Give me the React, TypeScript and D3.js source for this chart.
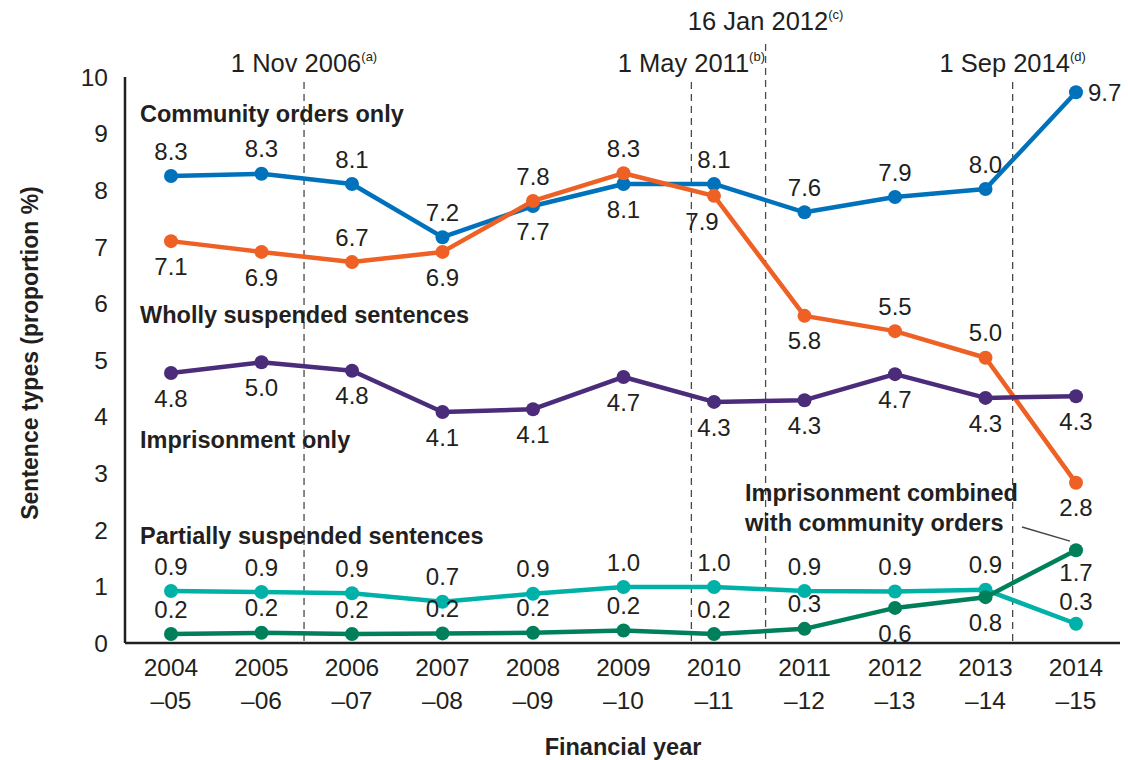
import React from 'react';
import * as d3 from 'd3';

// categories
const yearStart = ['2004', '2005', '2006', '2007', '2008', '2009', '2010', '2011', '2012', '2013', '2014'];
const yearEnd = ['–05', '–06', '–07', '–08', '–09', '–10', '–11', '–12', '–13', '–14', '–15'];

// series values (as plotted) and printed labels
const communityOnly = [8.25, 8.29, 8.11, 7.17, 7.72, 8.11, 8.11, 7.61, 7.88, 8.02, 9.73];
const communityText = ['8.3', '8.3', '8.1', '7.2', '7.7', '8.1', '8.1', '7.6', '7.9', '8.0', '9.7'];

const whollySuspended = [7.1, 6.91, 6.73, 6.91, 7.81, 8.3, 7.9, 5.78, 5.51, 5.04, 2.83];
const whollyText = ['7.1', '6.9', '6.7', '6.9', '7.8', '8.3', '7.9', '5.8', '5.5', '5.0', '2.8'];

const imprisonmentOnly = [4.77, 4.96, 4.81, 4.08, 4.13, 4.7, 4.26, 4.29, 4.75, 4.33, 4.36];
const imprisonmentText = ['4.8', '5.0', '4.8', '4.1', '4.1', '4.7', '4.3', '4.3', '4.7', '4.3', '4.3'];

const partiallySuspended = [0.92, 0.9, 0.88, 0.73, 0.87, 0.99, 0.99, 0.92, 0.91, 0.94, 0.34];
const partiallyText = ['0.9', '0.9', '0.9', '0.7', '0.9', '1.0', '1.0', '0.9', '0.9', '0.9', '0.3'];

const combined = [0.16, 0.18, 0.16, 0.17, 0.18, 0.22, 0.16, 0.25, 0.62, 0.81, 1.64];
const combinedText = ['0.2', '0.2', '0.2', '0.2', '0.2', '0.2', '0.2', '0.3', '0.6', '0.8', '1.7'];

const yTicks = [0, 1, 2, 3, 4, 5, 6, 7, 8, 9, 10];

// reform dates, placed on the category index axis
const reformDates = ['1 Nov 2006', '1 May 2011', '16 Jan 2012', '1 Sep 2014'];
const reformNotes = ['(a)', '(b)', '(c)', '(d)'];
const reformIndex = [1.47, 5.75, 6.57, 9.3];

// label placement: a = above, b = below, r = right
const series = [
  { values: communityOnly, text: communityText, color: '#0072bc',
    place: ['a', 'a', 'a', 'a', 'b', 'b', 'a', 'a', 'a', 'a', 'r'], shift: [0, 0, 0, 0, 0, 0, 0, 0, 0, 0, 0] },
  { values: whollySuspended, text: whollyText, color: '#ef6024',
    place: ['b', 'b', 'a', 'b', 'a', 'a', 'b', 'b', 'a', 'a', 'b'], shift: [0, 0, 0, 0, 0, 0, -12, 0, 0, 0, 0] },
  { values: imprisonmentOnly, text: imprisonmentText, color: '#4b2c7b',
    place: ['b', 'b', 'b', 'b', 'b', 'b', 'b', 'b', 'b', 'b', 'b'], shift: [0, 0, 0, 0, 0, 0, 0, 0, 0, 0, 0] },
  { values: partiallySuspended, text: partiallyText, color: '#00b1a8',
    place: ['a', 'a', 'a', 'a', 'a', 'a', 'a', 'a', 'a', 'a', 'a'], shift: [0, 0, 0, 0, 0, 0, 0, 0, 0, 0, 0] },
  { values: combined, text: combinedText, color: '#00805a',
    place: ['a', 'a', 'a', 'a', 'a', 'a', 'a', 'a', 'b', 'b', 'b'], shift: [0, 0, 0, 0, 0, 0, 0, 0, 0, 0, 0] },
];

const seriesNames = [
  { lines: ['Community orders only'], value: 9.35 },
  { lines: ['Wholly suspended sentences'], value: 5.8 },
  { lines: ['Imprisonment only'], value: 3.6 },
  { lines: ['Partially suspended sentences'], value: 1.9 },
];

const W = 1128;
const H = 760;
const ink = '#231f20';
const font = '"Liberation Sans", Arial, sans-serif';

export default function App() {
  const idx = d3.scaleLinear().domain([0, 10]).range([171, 1076]);
  const y = d3.scaleLinear().domain([0, 10]).range([643, 77]);
  const x0 = 125;
  const x1 = 1120;
  const gap = 25;

  const line = d3
    .line<number>()
    .x((_, i) => idx(i))
    .y((d) => y(d));

  return (
    <svg
      width={W}
      height={H}
      style={{ position: 'absolute', left: 0, top: 0, background: '#fff' }}
      fontFamily={font}
    >
      {/* reform date markers */}
      {reformIndex.map((r, i) => {
        const top = i === 2 ? 44 : 82;
        const ty = i === 2 ? 30 : 72;
        return (
          <g key={'ref' + i}>
            <line
              x1={idx(r)}
              x2={idx(r)}
              y1={top}
              y2={y(0)}
              stroke="#4a4a4a"
              strokeWidth={1.3}
              strokeDasharray="7,5"
            />
            <text x={idx(r)} y={ty} textAnchor="middle" fontSize={25.5} fill={ink}>
              {reformDates[i]}
              <tspan fontSize={13} dy={-11}>{reformNotes[i]}</tspan>
            </text>
          </g>
        );
      })}

      {/* axes */}
      <line x1={x0} x2={x0} y1={y(10)} y2={y(0)} stroke={ink} strokeWidth={2.5} />
      <line x1={x0} x2={x1} y1={y(0)} y2={y(0)} stroke={ink} strokeWidth={2.5} />
      {yTicks.map((t) => (
        <text key={'yt' + t} x={108} y={y(t)} dy="0.36em" textAnchor="end" fontSize={24.5} fill={ink}>
          {t}
        </text>
      ))}
      {yearStart.map((s, i) => (
        <text key={'xt' + i} x={idx(i)} textAnchor="middle" fontSize={24.5} fill={ink}>
          <tspan x={idx(i)} y={676}>{s}</tspan>
          <tspan x={idx(i)} y={709}>{yearEnd[i]}</tspan>
        </text>
      ))}
      <text
        transform={`translate(38,353) rotate(-90)`}
        textAnchor="middle"
        fontSize={23}
        fontWeight="bold"
        fill={ink}
      >
        Sentence types (proportion %)
      </text>
      <text x={623} y={755} textAnchor="middle" fontSize={23.5} fontWeight="bold" fill={ink}>
        Financial year
      </text>

      {/* series name labels */}
      {seriesNames.map((s, i) => (
        <text key={'sn' + i} x={140} y={y(s.value)} dy="0.36em" fontSize={23.5} fontWeight="bold" fill={ink}>
          {s.lines[0]}
        </text>
      ))}
      <text fontSize={23.5} fontWeight="bold" fill={ink}>
        <tspan x={745} y={y(2.65)} dy="0.36em">Imprisonment combined</tspan>
        <tspan x={745} y={y(2.12)} dy="0.36em">with community orders</tspan>
      </text>
      <line x1={1022} x2={1070} y1={y(2.05)} y2={y(1.8)} stroke="#444" strokeWidth={1.5} />

      {/* lines and points */}
      {series.map((s, si) => (
        <g key={'s' + si}>
          <path d={line(s.values) || ''} fill="none" stroke={s.color} strokeWidth={4.5} strokeLinejoin="round" />
          {s.values.map((v, i) => (
            <circle key={i} cx={idx(i)} cy={y(v)} r={7} fill={s.color} />
          ))}
        </g>
      ))}

      {/* value labels */}
      {series.map((s, si) => (
        <g key={'l' + si}>
          {s.values.map((v, i) => {
            const p = s.place[i];
            const lx = p === 'r' ? idx(i) + 12 : idx(i) + s.shift[i];
            const tight = i === s.values.length - 1 && (si === 3 || si === 4);
            const g = tight ? 22 : gap;
            const ly = p === 'a' ? y(v) - g : p === 'b' ? y(v) + g : y(v);
            return (
              <text
                key={i}
                x={lx}
                y={ly}
                dy="0.36em"
                textAnchor={p === 'r' ? 'start' : 'middle'}
                fontSize={24}
                fill={ink}
              >
                {s.text[i]}
              </text>
            );
          })}
        </g>
      ))}
    </svg>
  );
}
